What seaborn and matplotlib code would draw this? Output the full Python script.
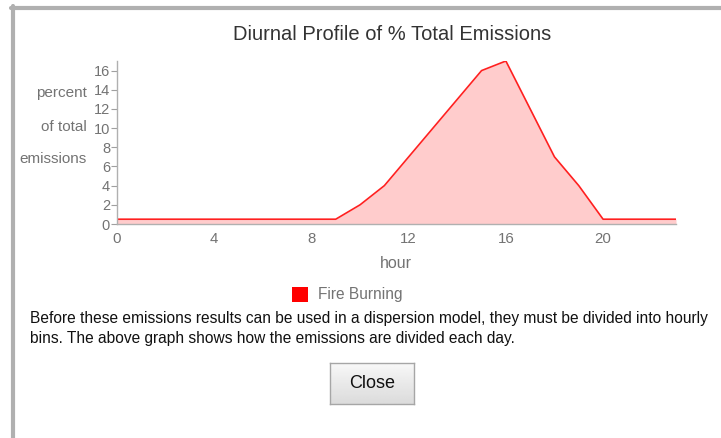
import numpy as np
import pandas as pd
import matplotlib
matplotlib.use("Agg")
import matplotlib.pyplot as plt
import seaborn as sns
from matplotlib.lines import Line2D
from matplotlib.patches import Rectangle

hours = list(range(24))
percent = [0.5, 0.5, 0.5, 0.5, 0.5, 0.5, 0.5, 0.5, 0.5, 0.5,
           2, 4, 7, 10, 13, 16, 17, 12, 7, 4,
           0.5, 0.5, 0.5, 0.5]
series_name = "Fire Burning"
x_ticks = [0, 4, 8, 12, 16, 20]
y_ticks = [0, 2, 4, 6, 8, 10, 12, 14, 16]

df = pd.DataFrame({"hour": hours, "percent": percent})

sns.set_theme(style="white")
plt.rcParams['font.family'] = ['Liberation Sans', 'DejaVu Sans']

W, H = 721, 438
fig = plt.figure(figsize=(W / 100, H / 100), dpi=100)

def fx(px):
    return px / W

def fy(py):
    return 1 - py / H

ax = fig.add_axes([fx(117), fy(224), fx(676) - fx(117), fy(61) - fy(224)])

ax.fill_between(df["hour"], df["percent"], color="#ffcccc", lw=0)
sns.lineplot(data=df, x="hour", y="percent", color="#ff2020", lw=1.2, ax=ax)

ax.set_xlim(0, 23)
ax.set_ylim(0, 17)
ax.set_xticks(x_ticks)
ax.set_yticks(y_ticks)
ax.set_xlabel("")
ax.set_ylabel("")
ax.tick_params(axis="x", length=0, pad=6, labelsize=10.8, labelcolor="#737373")
ax.tick_params(axis="y", left=True, length=4, width=0.8, color="#a0a0a0",
               pad=1, labelsize=10.5, labelcolor="#737373")
for s in ["top", "right"]:
    ax.spines[s].set_visible(False)
for s in ["left", "bottom"]:
    ax.spines[s].set_color("#b0b0b0")
    ax.spines[s].set_linewidth(1.0)

# y label as three lines
for txt, py in [("percent", 93), ("of total", 127), ("emissions", 159)]:
    fig.text(fx(87), fy(py), txt, ha="right", va="center", fontsize=11, color="#737373")

fig.text(fx(392), fy(34), "Diurnal Profile of % Total Emissions", ha="center", va="center",
         fontsize=14.5, color="#333333")
fig.text(fx(396), fy(264), "hour", ha="center", va="center", fontsize=11.5, color="#737373")

# legend
fig.patches.append(Rectangle((fx(292), fy(302)), fx(308) - fx(292), fy(287) - fy(302),
                             transform=fig.transFigure, facecolor="#ff0000", edgecolor="none"))
fig.text(fx(318), fy(294), series_name, ha="left", va="center", fontsize=11.2, color="#737373")

# description
fig.text(fx(30), fy(318), "Before these emissions results can be used in a dispersion model, they must be divided into hourly",
         ha="left", va="center", fontsize=11.2, color="#111111")
fig.text(fx(30), fy(338), "bins. The above graph shows how the emissions are divided each day.",
         ha="left", va="center", fontsize=11.2, color="#111111")

# close button with a light vertical gradient
bax = fig.add_axes([fx(330), fy(404), fx(414) - fx(330), fy(363) - fy(404)])
grad = np.linspace(0.97, 0.86, 50).reshape(-1, 1)
bax.imshow(grad, cmap="gray", vmin=0, vmax=1, aspect="auto", extent=[0, 1, 0, 1], origin="upper")
bax.set_xticks([])
bax.set_yticks([])
for s in bax.spines.values():
    s.set_color("#a6a6a6")
    s.set_linewidth(1.0)
bax.text(0.5, 0.5, "Close", ha="center", va="center", fontsize=13, color="#111111",
         transform=bax.transAxes)

# dialog border
fig.lines.append(Line2D([fx(11), fx(721)], [fy(8), fy(8)], transform=fig.transFigure,
                        color="#b0b0b0", lw=3))
fig.lines.append(Line2D([fx(13), fx(13)], [fy(6), fy(438)], transform=fig.transFigure,
                        color="#b0b0b0", lw=3))

fig.savefig("out.png", dpi=100)
